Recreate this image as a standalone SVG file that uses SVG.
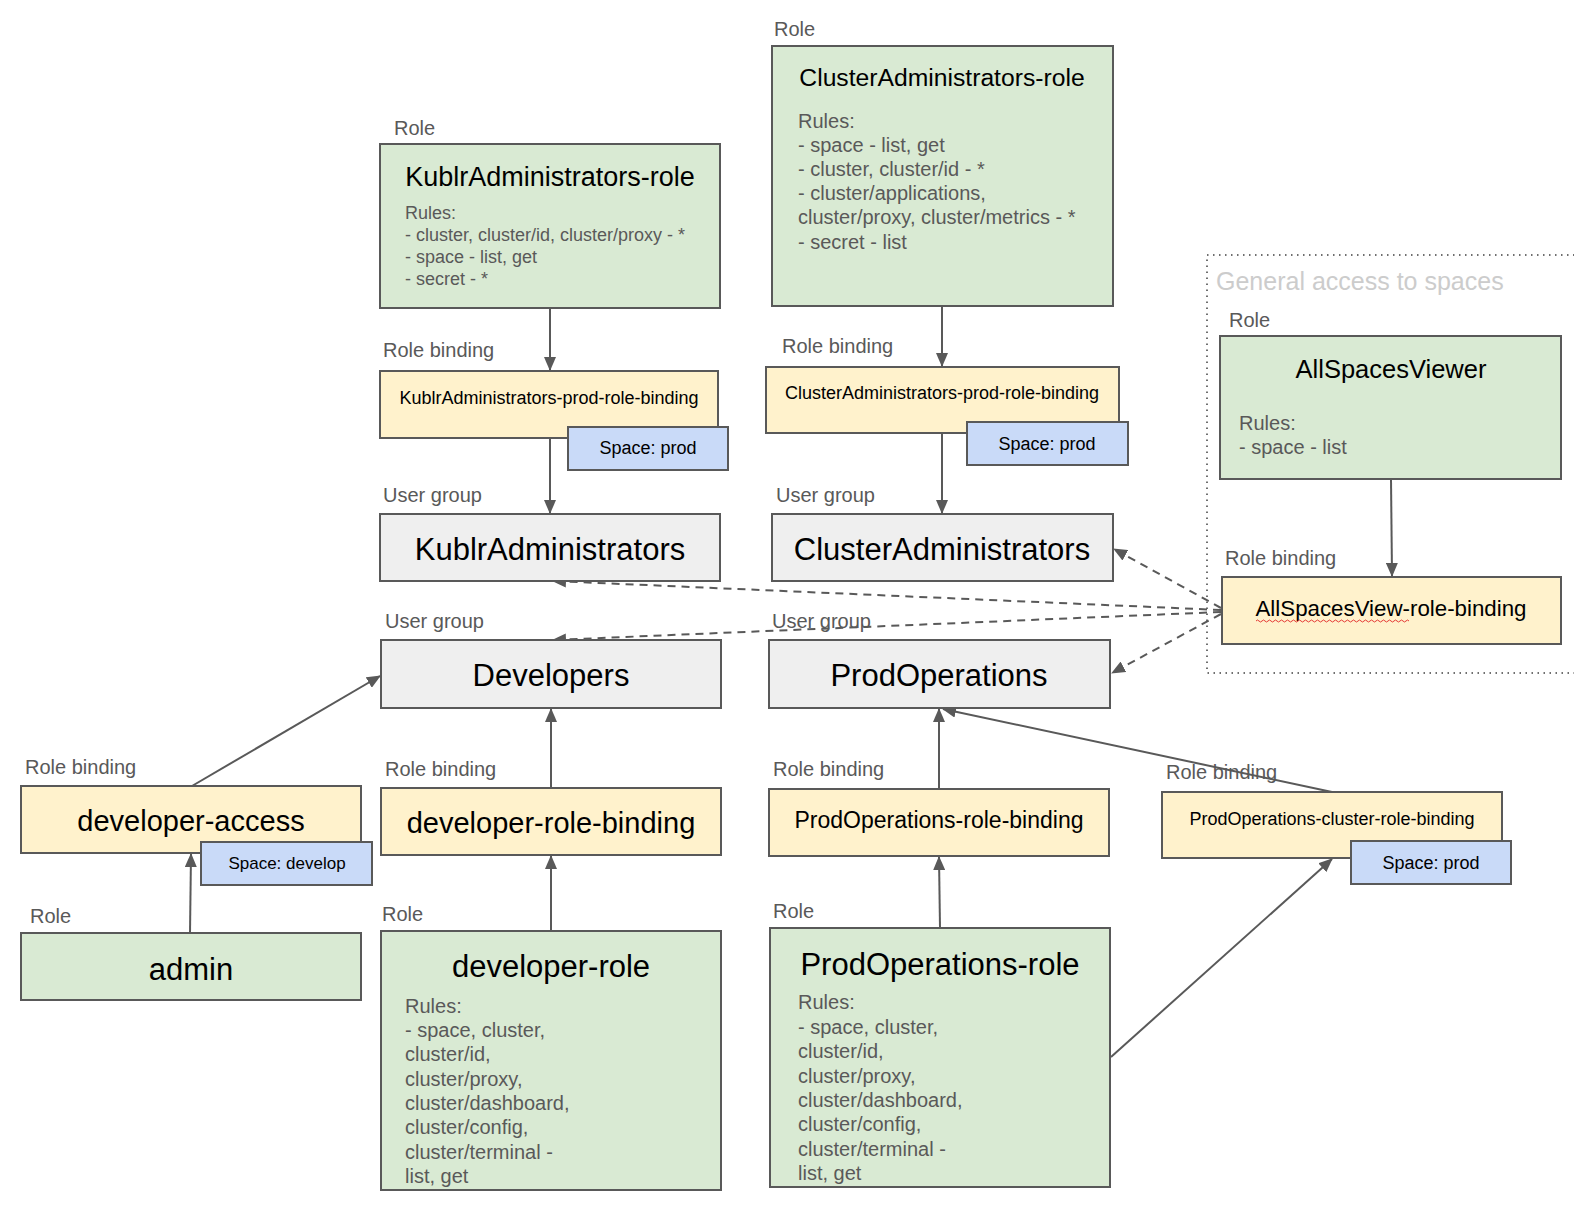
<svg xmlns="http://www.w3.org/2000/svg" width="1574" height="1212" viewBox="0 0 1574 1212">
<style>
  text { font-family: "Liberation Sans", Arial, sans-serif; }
  .lbl { font-size: 20px; fill: #595959; }
  .rules { font-size: 20px; fill: #595959; }
  .rules18 { font-size: 18px; fill: #595959; }
  .t { fill: #000; text-anchor: middle; }
  .role { fill: #d9ead3; stroke: #595959; stroke-width: 2; }
  .bind { fill: #fff2cc; stroke: #595959; stroke-width: 2; }
  .grp { fill: #efefef; stroke: #595959; stroke-width: 2; }
  .space { fill: #c9daf8; stroke: #595959; stroke-width: 2; }
  .conn { fill: none; stroke: #595959; stroke-width: 2; marker-end: url(#arrow); }
  .dash { stroke-dasharray: 8 6; }
</style>
<defs>
  <marker id="arrow" markerUnits="userSpaceOnUse" markerWidth="14" markerHeight="12" refX="13" refY="6" orient="auto">
    <path d="M0,0 L14,6 L0,12 z" fill="#595959"/>
  </marker>
</defs>
<rect width="1574" height="1212" fill="#ffffff"/>

<g id="general-access">
  <rect x="1207" y="255" width="380" height="418" fill="none" stroke="#6f6f6f" stroke-width="2" stroke-dasharray="1.5 4.5"/>
  <text x="1216" y="290" style="font-size:25px;fill:#cccccc">General access to spaces</text>
</g>

<g id="connectors">
  <line class="conn" x1="550" y1="308" x2="550" y2="370"/>
  <line class="conn" x1="550" y1="438" x2="550" y2="513"/>
  <line class="conn" x1="942" y1="306" x2="942" y2="366"/>
  <line class="conn" x1="942" y1="433" x2="942" y2="513"/>
  <line class="conn" x1="1391" y1="479" x2="1392" y2="576"/>
  <line class="conn dash" x1="1221" y1="608" x2="1114" y2="549"/>
  <line class="conn dash" x1="1221" y1="610" x2="553" y2="581"/>
  <line class="conn dash" x1="1221" y1="612" x2="553" y2="640"/>
  <line class="conn dash" x1="1221" y1="614" x2="1112" y2="673"/>
  <line class="conn" x1="192" y1="786" x2="380" y2="676"/>
  <line class="conn" x1="551" y1="788" x2="551" y2="709"/>
  <line class="conn" x1="190" y1="933" x2="191" y2="854"/>
  <line class="conn" x1="551" y1="931" x2="551" y2="856"/>
  <line class="conn" x1="939" y1="789" x2="939" y2="709"/>
  <line class="conn" x1="940" y1="928" x2="939" y2="857"/>
  <line class="conn" x1="1332" y1="792" x2="943" y2="709"/>
  <line class="conn" x1="1111" y1="1057" x2="1332" y2="859"/>
</g>

<g id="kublr-admin-role">
  <text class="lbl" x="394" y="135">Role</text>
  <rect class="role" x="380" y="144" width="340" height="164"/>
  <text class="t" x="550" y="186" style="font-size:27px">KublrAdministrators-role</text>
  <text class="rules18" x="405" y="219">Rules:</text>
  <text class="rules18" x="405" y="241">- cluster, cluster/id, cluster/proxy - *</text>
  <text class="rules18" x="405" y="263">- space - list, get</text>
  <text class="rules18" x="405" y="285">- secret - *</text>
</g>

<g id="kublr-admin-binding">
  <text class="lbl" x="383" y="357">Role binding</text>
  <rect class="bind" x="380" y="371" width="338" height="67"/>
  <text class="t" x="549" y="404" style="font-size:18px">KublrAdministrators-prod-role-binding</text>
  <rect class="space" x="568" y="427" width="160" height="43"/>
  <text class="t" x="648" y="454" style="font-size:18px">Space: prod</text>
</g>

<g id="kublr-admins">
  <text class="lbl" x="383" y="502">User group</text>
  <rect class="grp" x="380" y="514" width="340" height="67"/>
  <text class="t" x="550" y="560" style="font-size:31px">KublrAdministrators</text>
</g>

<g id="cluster-admin-role">
  <text class="lbl" x="774" y="36">Role</text>
  <rect class="role" x="772" y="46" width="341" height="260"/>
  <text class="t" x="942" y="86" style="font-size:24.7px">ClusterAdministrators-role</text>
  <text class="rules" x="798" y="128">Rules:</text>
  <text class="rules" x="798" y="152">- space - list, get</text>
  <text class="rules" x="798" y="176">- cluster, cluster/id - *</text>
  <text class="rules" x="798" y="200">- cluster/applications,</text>
  <text class="rules" x="798" y="224">cluster/proxy, cluster/metrics - *</text>
  <text class="rules" x="798" y="249">- secret - list</text>
</g>

<g id="cluster-admin-binding">
  <text class="lbl" x="782" y="353">Role binding</text>
  <rect class="bind" x="766" y="367" width="353" height="66"/>
  <text class="t" x="942" y="399" style="font-size:18px">ClusterAdministrators-prod-role-binding</text>
  <rect class="space" x="967" y="422" width="161" height="43"/>
  <text class="t" x="1047" y="450" style="font-size:18px">Space: prod</text>
</g>

<g id="cluster-admins">
  <text class="lbl" x="776" y="502">User group</text>
  <rect class="grp" x="772" y="514" width="341" height="67"/>
  <text class="t" x="942" y="560" style="font-size:31px">ClusterAdministrators</text>
</g>

<g id="all-spaces-viewer">
  <text class="lbl" x="1229" y="327">Role</text>
  <rect class="role" x="1220" y="336" width="341" height="143"/>
  <text class="t" x="1391" y="378" style="font-size:25.5px">AllSpacesViewer</text>
  <text class="rules" x="1239" y="430">Rules:</text>
  <text class="rules" x="1239" y="454">- space - list</text>
</g>

<g id="all-spaces-binding">
  <text class="lbl" x="1225" y="565">Role binding</text>
  <rect class="bind" x="1222" y="577" width="339" height="67"/>
  <text class="t" x="1391" y="616" style="font-size:22.3px">AllSpacesView-role-binding</text>
  <path d="M1256,621 q1.5,-2 3,0 t3,0 t3,0 t3,0 t3,0 t3,0 t3,0 t3,0 t3,0 t3,0 t3,0 t3,0 t3,0 t3,0 t3,0 t3,0 t3,0 t3,0 t3,0 t3,0 t3,0 t3,0 t3,0 t3,0 t3,0 t3,0 t3,0 t3,0 t3,0 t3,0 t3,0 t3,0 t3,0 t3,0 t3,0 t3,0 t3,0 t3,0 t3,0 t3,0 t3,0 t3,0 t3,0 t3,0 t3,0 t3,0 t3,0 t3,0 t3,0 t3,0 t3,0" fill="none" stroke="#e53935" stroke-width="1"/>
</g>

<g id="developers">
  <text class="lbl" x="385" y="628">User group</text>
  <rect class="grp" x="381" y="640" width="340" height="68"/>
  <text class="t" x="551" y="686" style="font-size:31px">Developers</text>
</g>

<g id="prod-operations">
  <text class="lbl" x="772" y="628">User group</text>
  <rect class="grp" x="769" y="640" width="341" height="68"/>
  <text class="t" x="939" y="686" style="font-size:31px">ProdOperations</text>
</g>

<g id="developer-access">
  <text class="lbl" x="25" y="774">Role binding</text>
  <rect class="bind" x="21" y="786" width="340" height="67"/>
  <text class="t" x="191" y="831" style="font-size:29px">developer-access</text>
  <rect class="space" x="201" y="842" width="171" height="43"/>
  <text class="t" x="287" y="869" style="font-size:17px">Space: develop</text>
</g>

<g id="admin">
  <text class="lbl" x="30" y="923">Role</text>
  <rect class="role" x="21" y="933" width="340" height="67"/>
  <text class="t" x="191" y="980" style="font-size:31px">admin</text>
</g>

<g id="developer-role-binding">
  <text class="lbl" x="385" y="776">Role binding</text>
  <rect class="bind" x="381" y="788" width="340" height="67"/>
  <text class="t" x="551" y="833" style="font-size:29px">developer-role-binding</text>
</g>

<g id="developer-role">
  <text class="lbl" x="382" y="921">Role</text>
  <rect class="role" x="381" y="931" width="340" height="259"/>
  <text class="t" x="551" y="977" style="font-size:31px">developer-role</text>
  <text class="rules" x="405" y="1013">Rules:</text>
  <text class="rules" x="405" y="1037">- space, cluster,</text>
  <text class="rules" x="405" y="1061">cluster/id,</text>
  <text class="rules" x="405" y="1086">cluster/proxy,</text>
  <text class="rules" x="405" y="1110">cluster/dashboard,</text>
  <text class="rules" x="405" y="1134">cluster/config,</text>
  <text class="rules" x="405" y="1159">cluster/terminal -</text>
  <text class="rules" x="405" y="1183">list, get</text>
</g>

<g id="prod-operations-role-binding">
  <text class="lbl" x="773" y="776">Role binding</text>
  <rect class="bind" x="769" y="789" width="340" height="67"/>
  <text class="t" x="939" y="828" style="font-size:23px">ProdOperations-role-binding</text>
</g>

<g id="prod-operations-role">
  <text class="lbl" x="773" y="918">Role</text>
  <rect class="role" x="770" y="928" width="340" height="259"/>
  <text class="t" x="940" y="975" style="font-size:31px">ProdOperations-role</text>
  <text class="rules" x="798" y="1009">Rules:</text>
  <text class="rules" x="798" y="1034">- space, cluster,</text>
  <text class="rules" x="798" y="1058">cluster/id,</text>
  <text class="rules" x="798" y="1083">cluster/proxy,</text>
  <text class="rules" x="798" y="1107">cluster/dashboard,</text>
  <text class="rules" x="798" y="1131">cluster/config,</text>
  <text class="rules" x="798" y="1156">cluster/terminal -</text>
  <text class="rules" x="798" y="1180">list, get</text>
</g>

<g id="prod-operations-cluster-role-binding">
  <text class="lbl" x="1166" y="779">Role binding</text>
  <rect class="bind" x="1162" y="792" width="340" height="66"/>
  <text class="t" x="1332" y="825" style="font-size:18px">ProdOperations-cluster-role-binding</text>
  <rect class="space" x="1351" y="841" width="160" height="43"/>
  <text class="t" x="1431" y="869" style="font-size:18px">Space: prod</text>
</g>
</svg>
